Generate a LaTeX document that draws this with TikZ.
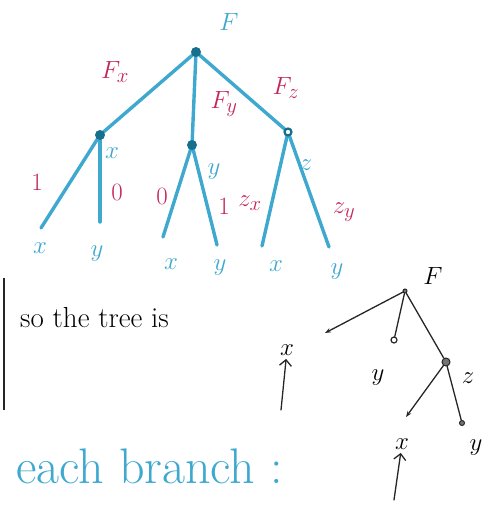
\documentclass[tikz,border=0pt]{standalone}
\usepackage{xcolor}
\usetikzlibrary{arrows.meta}
\definecolor{inkblue}{RGB}{62,168,206}
\definecolor{inkdark}{RGB}{22,112,140}
\definecolor{inkred}{RGB}{196,38,90}

\begin{document}
\begin{tikzpicture}[
  x=1pt, y=-1pt,
  font=\fontsize{28}{32}\selectfont,
  branch/.style={draw=inkblue, line width=3.4pt, line cap=round},
  knot/.style={circle, fill=inkdark, inner sep=0pt, minimum size=10pt},
  openknot/.style={circle, draw=inkdark, line width=2.2pt, inner sep=0pt, minimum size=7pt},
  lbl/.style={text=inkred, inner sep=1pt},
  var/.style={text=inkblue, inner sep=1pt},
  ink/.style={draw=black!85, line width=1.3pt, line cap=round},
  inkknot/.style={circle, draw=black!85, fill=black!55, line width=1pt, inner sep=0pt, minimum size=6pt},
  inkopen/.style={circle, draw=black!85, line width=1.2pt, inner sep=0pt, minimum size=6pt},
  word/.style={anchor=west, inner sep=0pt}
]
\useasboundingbox (0,0) rectangle (490,508);
% --- blue tree ---
\coordinate (r)  at (196,52);
\coordinate (a)  at (100,135);
\coordinate (b)  at (192,145);
\coordinate (c)  at (288,132);
\coordinate (a1) at (41,228);
\coordinate (a2) at (100,222);
\coordinate (b1) at (163,237);
\coordinate (b2) at (217,245);
\coordinate (c1) at (262,246);
\coordinate (c2) at (329,247);
\draw[branch] (r) -- (a);
\draw[branch] (r) -- (b);
\draw[branch] (r) -- (c);
\draw[branch] (a) -- (a1);
\draw[branch] (a) -- (a2);
\draw[branch] (b) -- (b1);
\draw[branch] (b) -- (b2);
\draw[branch] (c) -- (c1);
\draw[branch] (c) -- (c2);
\node[knot] (rk) at (r) {};
\node[knot] (ak) at (a) {};
\node[knot] (bk) at (b) {};
\node[openknot, fill=white] (ck) at (c) {};
\node[var] (top) at (229,22) {$F$};
% --- edge labels ---
\node[lbl] (fx) at (115,72) {$F_x$};
\node[lbl] (fy) at (224,104) {$F_y$};
\node[lbl] (fz) at (286,88) {$F_z$};
\node[lbl] (e1) at (37,182) {$1$};
\node[lbl] (e2) at (117,192) {$0$};
\node[lbl] (e3) at (162,196) {$0$};
\node[lbl] (e4) at (224,206) {$1$};
\node[lbl] (e5) at (250,203) {$z_x$};
\node[lbl] (e6) at (344,212) {$z_y$};
% --- node and leaf names ---
\node[var] (nx) at (112,153) {$x$};
\node[var] (ny) at (214,172) {$y$};
\node[var] (nz) at (306,165) {$z$};
\node[var] (l1) at (40,248) {$x$};
\node[var] (l2) at (97,254) {$y$};
\node[var] (l3) at (171,264) {$x$};
\node[var] (l4) at (220,268) {$y$};
\node[var] (l5) at (276,266) {$x$};
\node[var] (l6) at (337,272) {$y$};
% --- text ---
\draw[black!85, line width=2pt] (4,278) -- (4,410);
\node[word, font=\fontsize{29}{33}\selectfont] (so) at (20,318) {so the tree is};
\node[word, text=inkblue, font=\fontsize{50}{56}\selectfont] (each) at (16,466) {each branch :};
% --- black tree ---
\node (F2) at (433,276) {$F$};
\node[inkknot, minimum size=4pt] (r2) at (405,291) {};
\coordinate (p) at (325,333);
\node[inkopen] (yk) at (394,340) {};
\node[inkknot, minimum size=8pt] (zk) at (446,362) {};
\coordinate (zx) at (406,417);
\node[inkknot, minimum size=5pt] (zy) at (462,423) {};
\draw[ink, -{Stealth[length=6pt, open]}] (r2) -- (p);
\draw[ink] (r2) -- (yk);
\draw[ink] (r2) -- (zk);
\draw[ink, -{Stealth[length=6pt, open]}] (zk) -- (zx);
\draw[ink] (zk) -- (zy);
\node (ty) at (378,378) {\fontsize{40}{44}\selectfont$y$};
\node (tz) at (468,378) {$z$};
\node (tx) at (287,350) {$x$};
\node (bx) at (402,444) {$x$};
\node (by) at (476,448) {$y$};
\coordinate (u1) at (281,410);
\coordinate (u2) at (394,500);
\draw[ink, -{Straight Barb[length=6pt]}] (u1) -- (tx);
\draw[ink, -{Straight Barb[length=6pt]}] (u2) -- (bx);
\end{tikzpicture}
\end{document}
